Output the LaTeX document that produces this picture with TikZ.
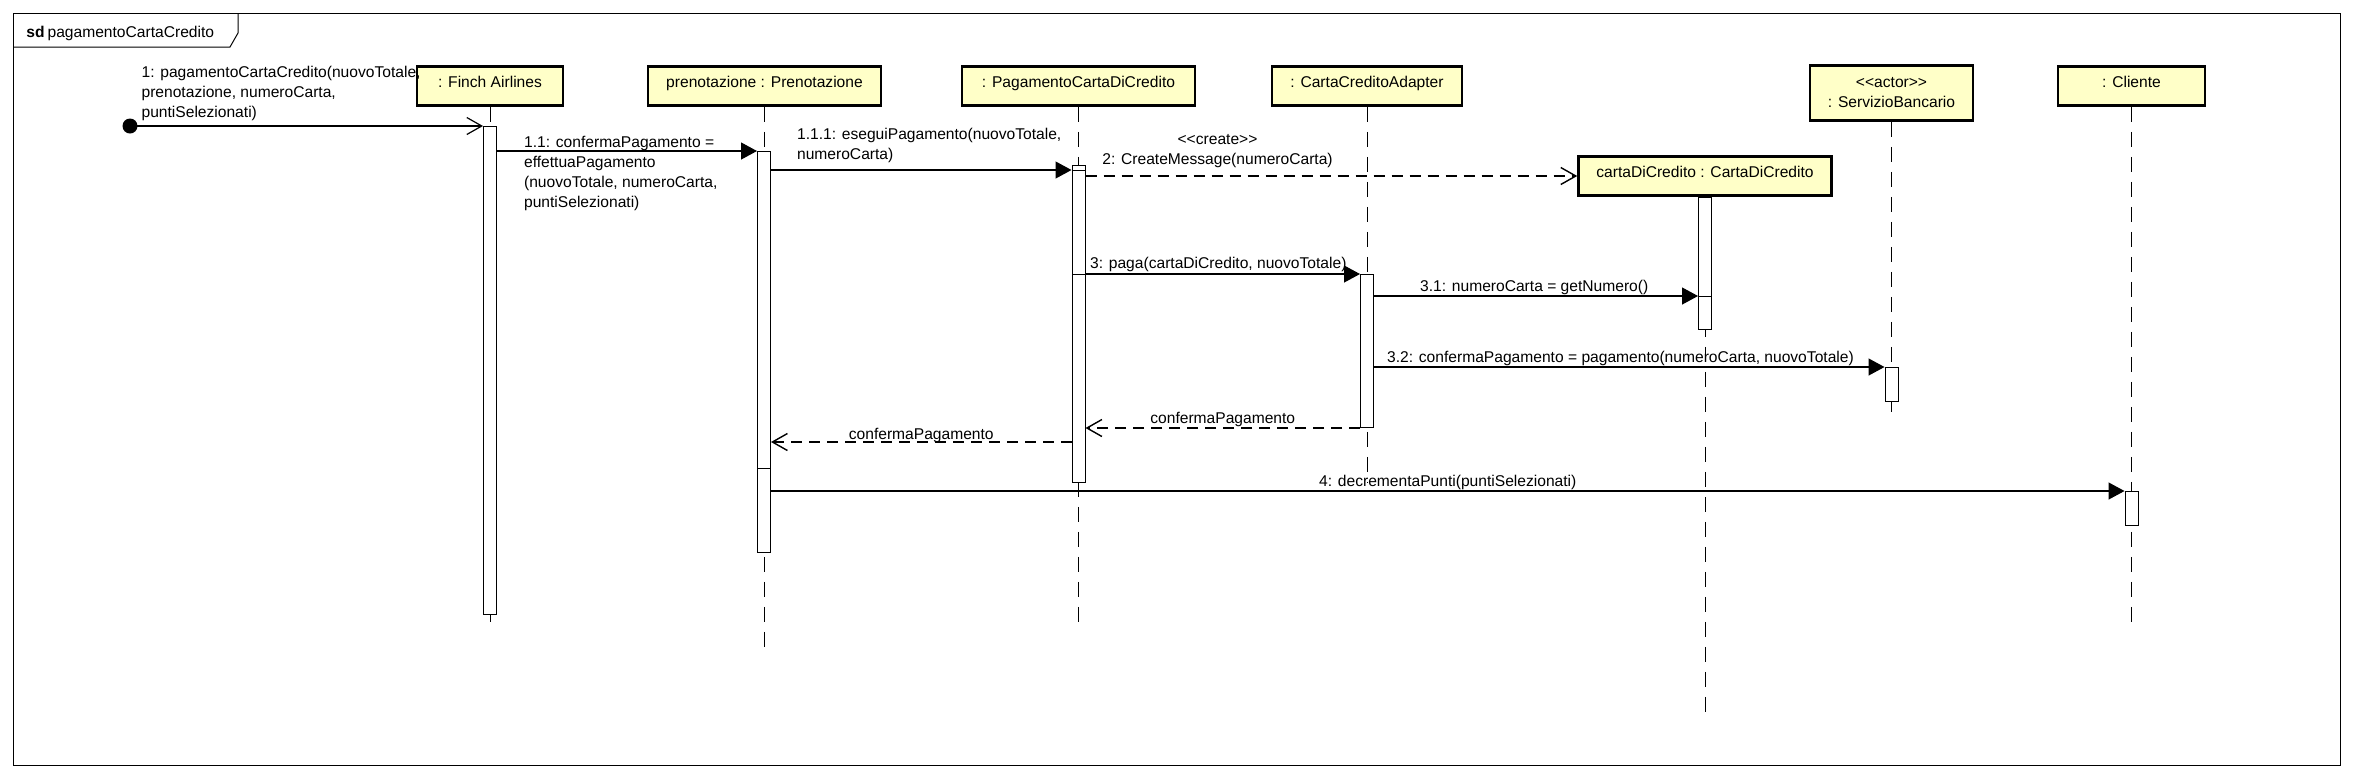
\documentclass[tikz,border=0pt]{standalone}
\usepackage{fontspec}
\setmainfont{Liberation Sans}
\usetikzlibrary{arrows.meta}
\definecolor{headfill}{RGB}{255,255,200}

\begin{document}
\begin{tikzpicture}[x=0.5pt,y=-0.5pt,>={Triangle[length=8pt,width=8.5pt]},
  font=\fontsize{7.8pt}{10pt}\selectfont]

  \tikzstyle{head}=[rectangle,draw=black,line width=1.3pt,fill=headfill,
                    minimum height=19.5pt,inner sep=0pt,align=center]
  \tikzstyle{onehead}=[head,text height=5.7pt,text depth=4.1pt]
  \tikzstyle{act}=[rectangle,draw=black,line width=0.5pt,fill=white,
                   minimum width=6.5pt,inner sep=0pt,anchor=north]
  \tikzstyle{life}=[line width=0.5pt,dash pattern=on 7.5pt off 5pt]
  \tikzstyle{call}=[line width=0.6pt,->]
  \tikzstyle{async}=[line width=0.6pt,-{Straight Barb[length=7.5pt,width=8.5pt]}]
  \tikzstyle{reply}=[async,line width=0.7pt,dash pattern=on 5.5pt off 3.5pt]
  \tikzstyle{msg}=[inner sep=0pt,align=left]

  \useasboundingbox (0,0) rectangle (2353,778);

  % frame
  \draw [line width=0.5pt] (13,13) rectangle (2340,765);
  \draw [line width=0.5pt] (13,47) -- (230,47) -- (238,33) -- (238,13);
  \node [msg,anchor=base west] (title) at (26,37.5) {\textbf{sd}\kern1.5pt pagamentoCartaCredito};

  % lifelines
  \node [onehead,minimum width=73pt]    (fa) at (490,86)     {: Finch Airlines};
  \node [onehead,minimum width=116.5pt] (pr) at (764.5,86)   {prenotazione : Prenotazione};
  \node [onehead,minimum width=116.5pt] (pg) at (1078.5,86)  {: PagamentoCartaDiCredito};
  \node [onehead,minimum width=95pt]    (ad) at (1367,86)    {: CartaCreditoAdapter};
  \node [onehead,minimum width=126.5pt] (cc) at (1705,176)   {cartaDiCredito : CartaDiCredito};
  \node [head,minimum width=81.5pt,minimum height=27.5pt] (sb) at (1891.5,93)
        {<\kern0pt<actor>\kern0pt>\\: ServizioBancario};
  \node [onehead,minimum width=73.5pt]  (cl) at (2131.5,86)  {: Cliente};

  \foreach \n/\e in {fa/625,pr/649,pg/625,ad/482,cc/715,sb/420,cl/624}
    \draw [life] (\n.south) -- (\n.south |- 0,\e);

  % activations
  \node [act,minimum height=244pt]   (fa1) at (490,126)    {};
  \node [act,minimum height=158.5pt] (pr1) at (764,151)    {};
  \node [act,minimum height=42pt]    (pr2) at (764,468)    {};
  \node [act,minimum height=2.5pt]   (pg1) at (1078.5,165) {};
  \node [act,minimum height=52pt]    (pg2) at (1078.5,170) {};
  \node [act,minimum height=104pt]   (pg3) at (1078.5,274) {};
  \node [act,minimum height=76.5pt]  (ad1) at (1367,274)   {};
  \node [act,minimum height=49.5pt]  (cc1) at (1705,197)   {};
  \node [act,minimum height=16.5pt]  (cc2) at (1705,296)   {};
  \node [act,minimum height=17pt]    (sb1) at (1891.5,367) {};
  \node [act,minimum height=17pt]    (cl1) at (2131.5,491) {};

  % messages
  \node [circle,fill=black,minimum size=7.5pt,inner sep=0pt] (init) at (130,126) {};
  \draw [async] (init.center) -- node [msg,pos=0,anchor=south west,xshift=5.5pt,yshift=2.5pt] (l1)
        {1: pagamentoCartaCredito(nuovoTotale,\\prenotazione, numeroCarta,\\puntiSelezionati)} (fa1.north west);
  \draw [call] (fa1.east |- pr1.north) -- node [msg,pos=0,anchor=south west,xshift=13.25pt,yshift=-30.4pt] (l11)
        {1.1: confermaPagamento =\\effettuaPagamento\\(nuovoTotale, numeroCarta,\\puntiSelezionati)} (pr1.north west);
  \draw [call] (pr1.east |- pg2.north) -- node [msg,pos=0,anchor=south west,xshift=12.75pt,yshift=3.1pt] (l111)
        {1.1.1: eseguiPagamento(nuovoTotale,\\numeroCarta)} (pg2.north west);
  \draw [reply] (pg2.east |- cc.west) -- node [msg,pos=0,anchor=south,align=center,xshift=66pt,yshift=3.85pt] (l2)
        {<\kern0pt<create>\kern0pt>\\2: CreateMessage(numeroCarta)} (cc.west);
  \draw [call] (pg3.north east) -- node [msg,pos=0,anchor=base west,xshift=2pt,yshift=2.75pt] (l3)
        {3: paga(cartaDiCredito, nuovoTotale)} (ad1.north west);
  \draw [call] (ad1.east |- cc2.north) -- node [msg,pos=0,anchor=base west,xshift=22.75pt,yshift=2.25pt] (l31)
        {3.1: numeroCarta = getNumero()} (cc2.north west);
  \draw [call] (ad1.east |- sb1.north) -- node [msg,pos=0,anchor=base west,xshift=6.25pt,yshift=2.25pt] (l32)
        {3.2: confermaPagamento = pagamento(numeroCarta, nuovoTotale)} (sb1.north west);
  \draw [reply] (ad1.south west) -- node [msg,anchor=base,yshift=2.25pt] (lr1)
        {confermaPagamento} (ad1.south west -| pg3.east);
  \coordinate (back) at (900,442);
  \draw [reply] (pg3.west |- back) -- node [msg,anchor=base,yshift=1.25pt] (lr2)
        {confermaPagamento} (pr1.east |- back);
  \draw [call] (pr2.east |- cl1.north) -- node [msg,anchor=base,yshift=2.25pt] (l4)
        {4: decrementaPunti(puntiSelezionati)} (cl1.north west);
\end{tikzpicture}
\end{document}
